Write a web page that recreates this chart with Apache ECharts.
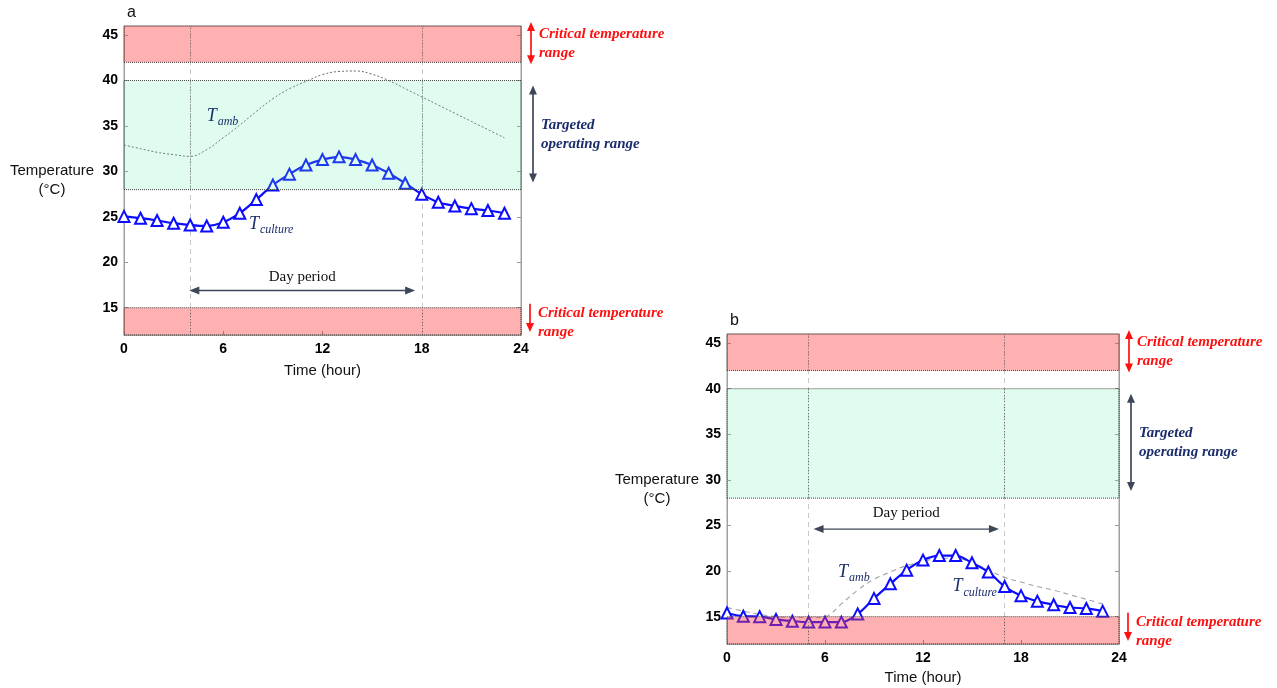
<!DOCTYPE html>
<html><head><meta charset="utf-8">
<script src="https://cdn.jsdelivr.net/npm/echarts@6/dist/echarts.min.js"></script>
<style>html,body{margin:0;padding:0;background:#fff}#c{width:1277px;height:688px}</style>
</head><body><div id="c"></div>
<script>
// ---------------- data ----------------
const hours = [0,1,2,3,4,5,6,7,8,9,10,11,12,13,14,15,16,17,18,19,20,21,22,23];
const cultureA = [25.05,24.85,24.6,24.3,24.1,24.0,24.4,25.4,26.9,28.5,29.7,30.7,31.3,31.6,31.3,30.7,29.8,28.7,27.5,26.6,26.2,25.9,25.7,25.4];
const ambientA = [32.9,32.5,32.1,31.85,31.65,32.4,33.7,35.1,36.6,38.0,39.1,39.9,40.65,41.0,41.05,40.7,40.0,39.1,38.2,37.3,36.4,35.5,34.6,33.7];
const cultureB = [15.4,15.05,15.0,14.7,14.5,14.4,14.4,14.4,15.3,17.0,18.6,20.1,21.2,21.7,21.7,20.9,19.9,18.3,17.3,16.7,16.3,16.0,15.9,15.6];
const ambientB = [16.0,15.6,15.25,15.0,14.9,14.9,15.0,16.4,17.9,19.1,19.9,20.6,21.05,21.4,21.4,20.9,20.1,19.3,18.8,18.3,17.9,17.4,16.9,16.4];
const yTickValues = [15,20,25,30,35,40,45];
const xTickLabels = ['0','6','12','18','24'];
const yRange = [12, 46];
const criticalHigh = [42, 46];
const targetRange = [28, 40];
const criticalLow = [12, 15];
const dayPeriodA = [4, 18];
const dayPeriodB = [5, 17];
const panelLetters = ['a', 'b'];

// ---------------- styling ----------------
const SANS = '"Liberation Sans", Arial, sans-serif';
const SERIF = '"Liberation Serif", "Times New Roman", serif';
const RED_BAND = 'rgba(255,60,60,0.40)';
const GREEN_BAND = 'rgba(100,240,170,0.20)';
const BLUE = '#0c0cff';
const NAVY = '#1b2d6b';
const SLATE = '#3d4757';

const panels = [
  { grid: {left:124, top:26, width:397, height:309}, culture: cultureA, ambient: ambientA, day: dayPeriodA,
    amb: {color:'#6a6a6a', type:[2,2], width:1},
    dayArrow: {x1:3.95, x2:17.6, y:16.9}, dayTextDy:-13,
    tAmb:[5.0,36.1], tCul:[7.55,24.2], nameGap:72, xNameGap:28 },
  { grid: {left:727, top:334, width:392, height:310}, culture: cultureB, ambient: ambientB, day: dayPeriodB,
    amb: {color:'#a0a0a0', type:[5,4], width:1.1},
    dayArrow: {x1:5.3, x2:16.65, y:24.6}, dayTextDy:-16,
    tAmb:[6.8,19.9], tCul:[13.8,18.3], nameGap:70, xNameGap:26 }
];

const grids = [], xAxes = [], yAxes = [], series = [];
panels.forEach((p, i) => {
  grids.push(Object.assign({show:true, borderColor:'#a0a0a0', borderWidth:1, containLabel:false}, p.grid));
  xAxes.push({
    type:'value', gridIndex:i, min:0, max:24, interval:6,
    name:'Time (hour)', nameLocation:'middle', nameGap:p.xNameGap,
    nameTextStyle:{fontFamily:SANS, fontSize:15, color:'#111', verticalAlign:'top'},
    axisLine:{show:true, lineStyle:{color:'#a0a0a0'}},
    axisTick:{show:true, inside:true, length:4, lineStyle:{color:'#888'}},
    axisLabel:{fontFamily:SANS, fontSize:14, fontWeight:'bold', color:'#000', margin:7,
      formatter: v => xTickLabels[v/6] },
    splitLine:{show:false}
  });
  const yCommon = {
    type:'value', gridIndex:i, min:yRange[0], max:yRange[1],
    axisLine:{show:true, lineStyle:{color:'#a0a0a0'}},
    axisTick:{show:true, inside:true, length:4, customValues:yTickValues, lineStyle:{color:'#999'}},
    splitLine:{show:false}
  };
  yAxes.push(Object.assign({}, yCommon, {
    position:'left',
    name:'Temperature\n(°C)', nameLocation:'middle', nameGap:p.nameGap, nameRotate:0,
    nameTextStyle:{fontFamily:SANS, fontSize:15, color:'#111', align:'center', verticalAlign:'middle', lineHeight:19},
    axisLabel:{fontFamily:SANS, fontSize:14, fontWeight:'bold', color:'#000', margin:6, customValues:yTickValues}
  }));
  yAxes.push(Object.assign({}, yCommon, {position:'right', axisLabel:{show:false}}));

  const yi = i*2;
  // light dashed vertical day boundaries (under everything)
  series.push({
    type:'line', xAxisIndex:i, yAxisIndex:yi, data:[], z:1, silent:true,
    markLine:{ silent:true, symbol:'none', label:{show:false}, z:1,
      lineStyle:{color:'#c8c8c8', type:[5,4], width:1},
      data: p.day.map(d => ({xAxis:d})) }
  });
  // ambient temperature
  series.push({
    name:'T_amb', type:'line', xAxisIndex:i, yAxisIndex:yi, z:2,
    data: hours.map((h,k)=>[h, p.ambient[k]]), showSymbol:false, smooth:0.4,
    lineStyle:p.amb, silent:true
  });
  // culture temperature
  series.push({
    name:'T_culture', type:'line', xAxisIndex:i, yAxisIndex:yi, z:3,
    data: hours.map((h,k)=>[h, p.culture[k]]), smooth:0.35,
    symbol:'triangle', symbolSize:11, showAllSymbol:true,
    itemStyle:{color:'#ffffff', borderColor:BLUE, borderWidth:2},
    lineStyle:{color:BLUE, width:2.2}, silent:true
  });
  // bands on top (semi-transparent) + dark dotted day boundaries inside bands
  const bands = [[criticalHigh, RED_BAND], [targetRange, GREEN_BAND], [criticalLow, RED_BAND]];
  const segs = [];
  bands.forEach(b => p.day.forEach(d => segs.push([{coord:[d, b[0][0]]}, {coord:[d, b[0][1]]}])));
  series.push({
    type:'line', xAxisIndex:i, yAxisIndex:yi, data:[], z:10, silent:true,
    markArea:{ silent:true, z:10,
      data: bands.map(b => [
        {yAxis:b[0][0], itemStyle:{color:b[1], borderColor:'#444', borderWidth:1, borderType:[1,1]}},
        {yAxis:b[0][1]} ]) },
    markLine:{ silent:true, symbol:'none', label:{show:false}, z:11,
      lineStyle:{color:'#666', type:[1,2], width:1}, data: segs }
  });
});

const chart = echarts.init(document.getElementById('c'));
chart.setOption({
  animation:false, backgroundColor:'#fff',
  grid:grids, xAxis:xAxes, yAxis:yAxes, series:series
});

// ---------------- annotations ----------------
function px(i, x, y){ return chart.convertToPixel({xAxisIndex:i, yAxisIndex:i*2}, [x, y]); }
const G = [];
function line(x1,y1,x2,y2,color,w){ G.push({type:'line', silent:true, z:50, shape:{x1,y1,x2,y2}, style:{stroke:color, lineWidth:w}}); }
function head(x,y,dir,color,w,h){
  let pts;
  if (dir==='up') pts=[[x,y],[x-w,y+h],[x+w,y+h]];
  else if (dir==='down') pts=[[x,y],[x-w,y-h],[x+w,y-h]];
  else if (dir==='left') pts=[[x,y],[x+h,y-w],[x+h,y+w]];
  else pts=[[x,y],[x-h,y-w],[x-h,y+w]];
  G.push({type:'polygon', silent:true, z:51, shape:{points:pts}, style:{fill:color}});
}
function vArrow(x,y1,y2,color,both){
  line(x, both? y1+6 : y1, x, y2-6, color, 1.7);
  if (both) head(x,y1,'up',color,4,9);
  head(x,y2,'down',color,4,9);
}
function text(x,y,str,opts){
  G.push({type:'text', silent:true, z:60, x, y, style:Object.assign({text:str, align:'left', verticalAlign:'middle'}, opts)});
}
const critFont = {fontFamily:SERIF, fontSize:15, fontWeight:'bold', fontStyle:'italic', fill:'#ff1010'};
const tgtFont = {fontFamily:SERIF, fontSize:15, fontWeight:'bold', fontStyle:'italic', fill:NAVY};

panels.forEach((p, i) => {
  const right = px(i, 24, 0)[0];
  const top = px(i, 0, criticalHigh[1])[1];
  const r42 = px(i, 0, criticalHigh[0])[1];
  const g40 = px(i, 0, targetRange[1])[1];
  const g28 = px(i, 0, targetRange[0])[1];
  const r15 = px(i, 0, criticalLow[1])[1];
  const bot = px(i, 0, criticalLow[0])[1];
  text(px(i,0,0)[0]+3, top-13, panelLetters[i], {fontFamily:SANS, fontSize:16, fill:'#111'});
  vArrow(right+10, top-4, r42+2, '#ff1010', true);
  text(right+18, top+8, 'Critical temperature', critFont);
  text(right+18, top+27, 'range', critFont);
  vArrow(right+12, g40+5, g28-7, SLATE, true);
  const gm = (g40+g28)/2;
  text(right+20, gm-10, 'Targeted', tgtFont);
  text(right+20, gm+9, 'operating range', tgtFont);
  vArrow(right+9, r15-4, bot-3, '#ff1010', false);
  text(right+17, r15+5, 'Critical temperature', critFont);
  text(right+17, r15+24, 'range', critFont);
  const a1 = px(i, p.dayArrow.x1, p.dayArrow.y), a2 = px(i, p.dayArrow.x2, p.dayArrow.y);
  line(a1[0]+8, a1[1], a2[0]-8, a2[1], SLATE, 1.4);
  head(a1[0], a1[1], 'left', SLATE, 4, 10);
  head(a2[0], a2[1], 'right', SLATE, 4, 10);
  text((a1[0]+a2[0])/2, a1[1]+p.dayTextDy, 'Day period', {fontFamily:SERIF, fontSize:15, fill:'#111', align:'center'});
  const ta = px(i, p.tAmb[0], p.tAmb[1]);
  text(ta[0], ta[1], 'T', {fontFamily:SERIF, fontSize:18, fontStyle:'italic', fill:NAVY});
  text(ta[0]+11, ta[1]+6, 'amb', {fontFamily:SERIF, fontSize:12, fontStyle:'italic', fill:NAVY});
  const tc = px(i, p.tCul[0], p.tCul[1]);
  text(tc[0], tc[1], 'T', {fontFamily:SERIF, fontSize:18, fontStyle:'italic', fill:NAVY});
  text(tc[0]+11, tc[1]+6, 'culture', {fontFamily:SERIF, fontSize:12, fontStyle:'italic', fill:NAVY});
});
chart.setOption({graphic:{elements:G}});
</script></body></html>
